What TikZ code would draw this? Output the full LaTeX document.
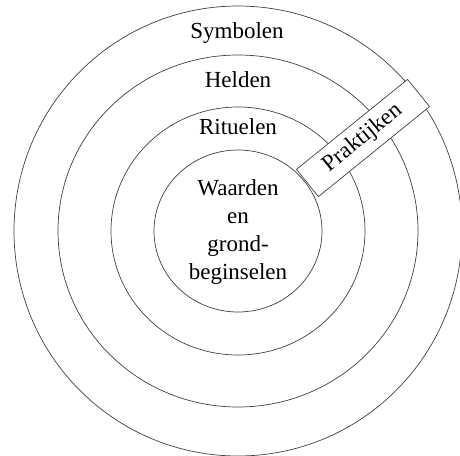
\documentclass[tikz,border=0pt]{standalone}
\usepackage{fontspec}
\setmainfont{Liberation Serif}
\usepackage{tikz}

\begin{document}
\begin{tikzpicture}[x=1pt,y=-1pt,font=\fontsize{23}{28}\selectfont,
    ring/.style={draw=black!75,line width=0.7pt},
    lbl/.style={align=center,inner sep=0pt},
    band/.style={draw=black!75,line width=0.7pt,fill=white,rotate=39,
                 minimum width=143pt,minimum height=35pt,inner sep=0pt}]

  \useasboundingbox (0,0) rectangle (460,455);

  \coordinate (mid) at (238,231);
  \draw[ring] (mid) ellipse [x radius=224,y radius=225];
  \draw[ring] (mid) ellipse [x radius=180,y radius=176];
  \draw[ring] (mid) ellipse [x radius=127,y radius=124];
  \draw[ring] (mid) ellipse [x radius=84,y radius=81];

  \node[lbl] (sym) at (237,33) {Symbolen};
  \node[lbl] (hel) at (238,80) {Helden};
  \node[lbl] (rit) at (238,127) {Rituelen};
  \node[lbl] (core) at (238,232)
    {Waarden\\en\\grond-\\beginselen};

  \node[band] (prak) at (363,138) {Praktijken};
\end{tikzpicture}
\end{document}
